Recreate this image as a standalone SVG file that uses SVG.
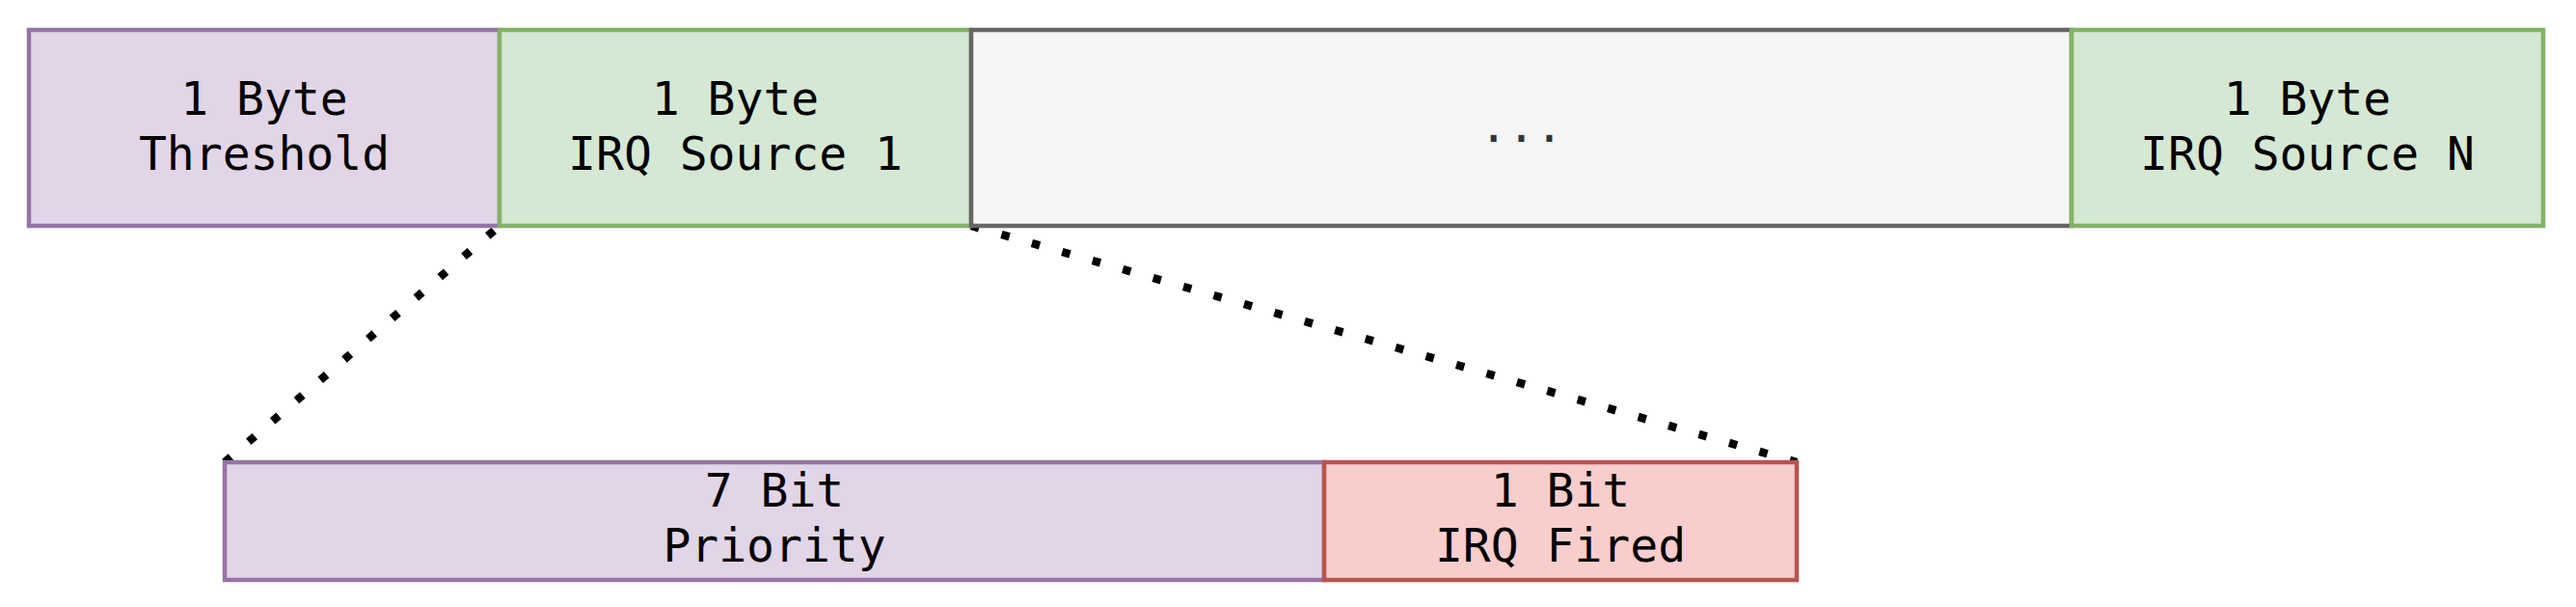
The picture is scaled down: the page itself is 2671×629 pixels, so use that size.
<svg xmlns="http://www.w3.org/2000/svg" width="2671" height="629" viewBox="0 0 2671 629">
  <style>
    .box { stroke-width: 4.5; }
    .purple { fill: #e1d5e7; stroke: #9673a6; }
    .green { fill: #d5e8d4; stroke: #82b366; }
    .grey { fill: #f5f5f5; stroke: #666666; }
    .red { fill: #f8cecc; stroke: #b85450; }
    .lbl { font-family: "DejaVu Sans Mono", monospace; font-size: 48px; fill: #000000; text-anchor: middle; }
    .lbl-grey { fill: #333333; }
    .dot { fill: none; stroke: #000000; stroke-width: 8.5; stroke-dasharray: 8.5 24.2; stroke-linecap: butt; }
  </style>
  <rect x="0" y="0" width="2671" height="629" fill="#ffffff"/>
  <g id="connectors">
    <line class="dot" x1="233" y1="479" x2="518" y2="234"/>
    <line class="dot" x1="1007" y1="234" x2="1863" y2="479"/>
  </g>
  <g id="threshold">
    <rect class="box purple" x="30" y="31" width="488" height="203"/>
    <text class="lbl" x="274" y="119">1 Byte</text>
    <text class="lbl" x="274" y="176">Threshold</text>
  </g>
  <g id="source1">
    <rect class="box green" x="518" y="31" width="489" height="203"/>
    <text class="lbl" x="762.5" y="119">1 Byte</text>
    <text class="lbl" x="762.5" y="176">IRQ Source 1</text>
  </g>
  <g id="ellipsis">
    <rect class="box grey" x="1007" y="31" width="1141" height="203"/>
    <text class="lbl lbl-grey" x="1577.5" y="147">...</text>
  </g>
  <g id="sourceN">
    <rect class="box green" x="2148" y="31" width="489" height="203"/>
    <text class="lbl" x="2392.5" y="119">1 Byte</text>
    <text class="lbl" x="2392.5" y="176">IRQ Source N</text>
  </g>
  <g id="priority">
    <rect class="box purple" x="233" y="479" width="1140" height="122"/>
    <text class="lbl" x="803" y="525">7 Bit</text>
    <text class="lbl" x="803" y="582">Priority</text>
  </g>
  <g id="fired">
    <rect class="box red" x="1373" y="479" width="490" height="122"/>
    <text class="lbl" x="1618" y="525">1 Bit</text>
    <text class="lbl" x="1618" y="582">IRQ Fired</text>
  </g>
</svg>
